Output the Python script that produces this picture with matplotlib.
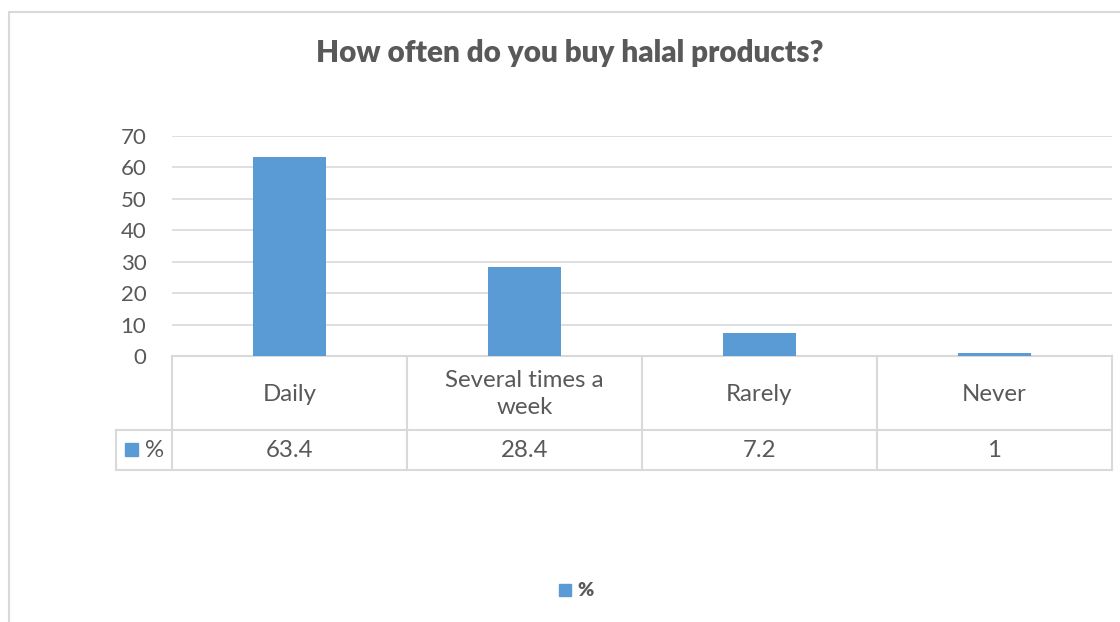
import matplotlib
matplotlib.use("Agg")
import matplotlib.pyplot as plt
import matplotlib.transforms as mtransforms
from matplotlib.patches import Rectangle
from matplotlib.lines import Line2D

categories = ["Daily", "Several times a\nweek", "Rarely", "Never"]
values = [63.4, 28.4, 7.2, 1]
value_labels = ["63.4", "28.4", "7.2", "1"]
series_name = "%"
title = "How often do you buy halal products?"
yticks = [0, 10, 20, 30, 40, 50, 60, 70]

BAR = "#5b9bd5"
TXT = "#595959"
GRID = "#d9d9d9"

plt.rcParams["font.family"] = ["Lato", "DejaVu Sans"]
FS_TICK = 16
FS = 17.3

W, H = 1120, 622
fig = plt.figure(figsize=(W / 100, H / 100), dpi=100)

def fx(px):
    return px / W

def fy(py):
    return 1 - py / H

# outer chart frame (runs off the right and bottom edges)
fig.patches.append(Rectangle((fx(8.5), fy(1000)), fx(1200), fy(11.5) - fy(1000),
                             transform=fig.transFigure, fill=False,
                             edgecolor=GRID, linewidth=1.5))

ax = fig.add_axes([fx(172), fy(356), fx(1112) - fx(172), fy(136) - fy(356)])
x = list(range(len(categories)))
ax.bar(x, values, width=0.31, color=BAR, zorder=3)
ax.set_xlim(-0.5, len(categories) - 0.5)
ax.set_ylim(0, 70)
ax.set_yticks(yticks)
ax.yaxis.grid(True, color=GRID, linewidth=1.2)
ax.set_axisbelow(True)
for s in ax.spines.values():
    s.set_visible(False)
ax.tick_params(axis="y", length=0, pad=18.5, labelsize=FS_TICK, labelcolor=TXT)
ax.set_xticks([])

fig.text(fx(570), fy(53), title, ha="center", va="center",
         fontsize=21.3, fontweight="heavy", color=TXT)

# data table underneath the plot
tr = mtransforms.blended_transform_factory(ax.transData, ax.transAxes)
row1 = -74 / 220
row2 = -114 / 220
left_key = -0.5 - 56 / 235
right = len(categories) - 0.5

def hline(x0, x1, y):
    ax.add_line(Line2D([x0, x1], [y, y], transform=tr, color=GRID,
                       linewidth=1.5, clip_on=False))

def vline(xv, y0, y1):
    ax.add_line(Line2D([xv, xv], [y0, y1], transform=tr, color=GRID,
                       linewidth=1.5, clip_on=False))

hline(-0.5, right, 0)
hline(left_key, right, row1)
hline(left_key, right, row2)
for b in [i - 0.5 for i in range(len(categories) + 1)]:
    vline(b, row2, 0)
vline(left_key, row2, row1)

for i, (c, v) in enumerate(zip(categories, value_labels)):
    ax.text(i, row1 / 2 - 1 / 220, c, transform=tr, ha="center", va="center",
            fontsize=FS, color=TXT, linespacing=1.35)
    ax.text(i, (row1 + row2) / 2, v, transform=tr, ha="center", va="center",
            fontsize=FS, color=TXT)

# legend key inside the table
ax.add_patch(Rectangle((left_key + 9 / 235, (row1 + row2) / 2 - 6 / 220),
                       13 / 235, 13 / 220, transform=tr, color=BAR,
                       clip_on=False))
ax.text(left_key + 29 / 235, (row1 + row2) / 2, series_name, transform=tr,
        ha="left", va="center", fontsize=FS, color=TXT)

# bottom legend
fig.patches.append(Rectangle((fx(559), fy(596)), fx(12), fy(584) - fy(596),
                             transform=fig.transFigure, color=BAR))
fig.text(fx(577), fy(590), series_name, ha="left", va="center",
         fontsize=14, fontweight="heavy", color=TXT)

fig.savefig("out.png", dpi=100)
